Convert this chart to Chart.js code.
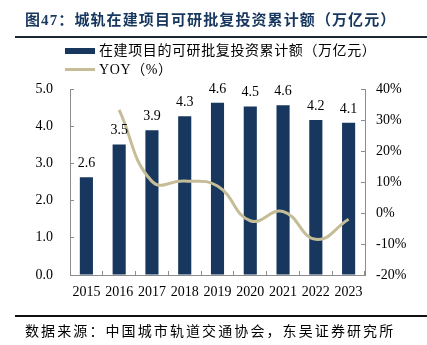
<!DOCTYPE html>
<html>
<head>
<meta charset="utf-8">
<script src="https://cdn.jsdelivr.net/npm/chart.js@4/dist/chart.umd.min.js"></script>
<style>
  html, body { margin: 0; padding: 0; background: #fff; }
  #wrap { position: relative; width: 427px; height: 345px; overflow: hidden; font-family: "Liberation Serif", "Noto Sans CJK SC", serif; }
  canvas { position: absolute; left: 0; top: 0; }
  .t { position: absolute; white-space: nowrap; line-height: 1; }
  #title { left: 25px; top: 13px; font-size: 15px; font-weight: bold; color: #17375E; letter-spacing: 1.1px; }
  #tline { position: absolute; left: 15px; top: 36px; width: 412px; height: 2px; background: #1c2633; }
  #fline { position: absolute; left: 15px; top: 315px; width: 412px; height: 1.5px; background: #111; }
  #foot { left: 25px; top: 325px; font-size: 14px; color: #000; letter-spacing: 2.1px; }
  .lg { font-size: 14px; color: #000; letter-spacing: 0.6px; }
  #lbox { position: absolute; left: 65px; top: 48px; width: 30px; height: 6px; background: #17375E; }
  #lline { position: absolute; left: 65px; top: 68px; width: 30px; height: 3px; background: #C4BD97; }
</style>
</head>
<body>
<div id="wrap">
  <canvas id="c" width="427" height="345"></canvas>
  <div class="t" id="title">图47：城轨在建项目可研批复投资累计额（万亿元）</div>
  <div id="tline"></div>
  <div id="lbox"></div>
  <div class="t lg" id="lt1" style="left:99px;top:44px;">在建项目的可研批复投资累计额（万亿元）</div>
  <div id="lline"></div>
  <div class="t lg" id="lt2" style="left:99px;top:63px;">YOY（%）</div>
  <div id="fline"></div>
  <div class="t" id="foot">数据来源：中国城市轨道交通协会，东吴证券研究所</div>
</div>
<script>
const years = ['2015','2016','2017','2018','2019','2020','2021','2022','2023'];
const investment = [2.63, 3.51, 3.89, 4.27, 4.63, 4.53, 4.56, 4.17, 4.09];
const yoy = [null, 33.3, 10.2, 10.3, 8.7, -2.5, 0.5, -8.5, -2.0];
const barLabel = '在建项目的可研批复投资累计额（万亿元）';
const lineLabel = 'YOY（%）';

const NAVY = '#17375E';
const KHAKI = '#C4BD97';
const AXIS = '#8c8c8c';
const FONT = '"Liberation Serif", "Noto Sans CJK SC", serif';

const barLabels = {
  id: 'barLabels',
  afterDatasetsDraw(chart) {
    const ctx = chart.ctx;
    const meta = chart.getDatasetMeta(0);
    ctx.save();
    ctx.font = '14px ' + FONT;
    ctx.fillStyle = '#000';
    ctx.textAlign = 'center';
    ctx.textBaseline = 'alphabetic';
    meta.data.forEach((bar, i) => {
      ctx.fillText(investment[i].toFixed(1), bar.x, bar.y - 10);
    });
    ctx.restore();
  }
};

new Chart(document.getElementById('c'), {
  data: {
    labels: years,
    datasets: [
      {
        type: 'bar',
        label: barLabel,
        data: investment,
        backgroundColor: NAVY,
        yAxisID: 'y',
        barPercentage: 0.4,
        categoryPercentage: 1.0,
        order: 2
      },
      {
        type: 'line',
        label: lineLabel,
        data: yoy,
        borderColor: KHAKI,
        borderWidth: 3,
        pointRadius: 0,
        tension: 0.45,
        fill: false,
        yAxisID: 'y1',
        order: 1
      }
    ]
  },
  options: {
    responsive: false,
    animation: false,
    layout: { padding: { top: 89, left: 0, right: 0, bottom: 0 } },
    plugins: { legend: { display: false }, tooltip: { enabled: false } },
    scales: {
      x: {
        offset: true,
        grid: { display: true, drawOnChartArea: false, drawTicks: true, tickLength: -4, color: AXIS, offset: true },
        border: { display: true, color: AXIS, width: 1 },
        ticks: { color: '#000', font: { family: FONT, size: 14 }, padding: 13, maxRotation: 0, autoSkip: false },
        afterFit(s) { s.height = 70; }
      },
      y: {
        position: 'left',
        min: 0, max: 5,
        grid: { display: true, drawOnChartArea: false, drawTicks: true, tickLength: -4, color: AXIS },
        border: { display: true, color: AXIS, width: 1 },
        ticks: { stepSize: 1, color: '#000', font: { family: FONT, size: 14 }, padding: 21, callback: v => Number(v).toFixed(1) },
        afterFit(s) { s.width = 70; }
      },
      y1: {
        position: 'right',
        min: -20, max: 40,
        grid: { display: true, drawOnChartArea: false, drawTicks: true, tickLength: -4, color: AXIS },
        border: { display: true, color: AXIS, width: 1 },
        ticks: { stepSize: 10, color: '#000', font: { family: FONT, size: 14 }, padding: 15, callback: v => v + '%' },
        afterFit(s) { s.width = 62; }
      }
    }
  },
  plugins: [barLabels]
});
</script>
</body>
</html>
